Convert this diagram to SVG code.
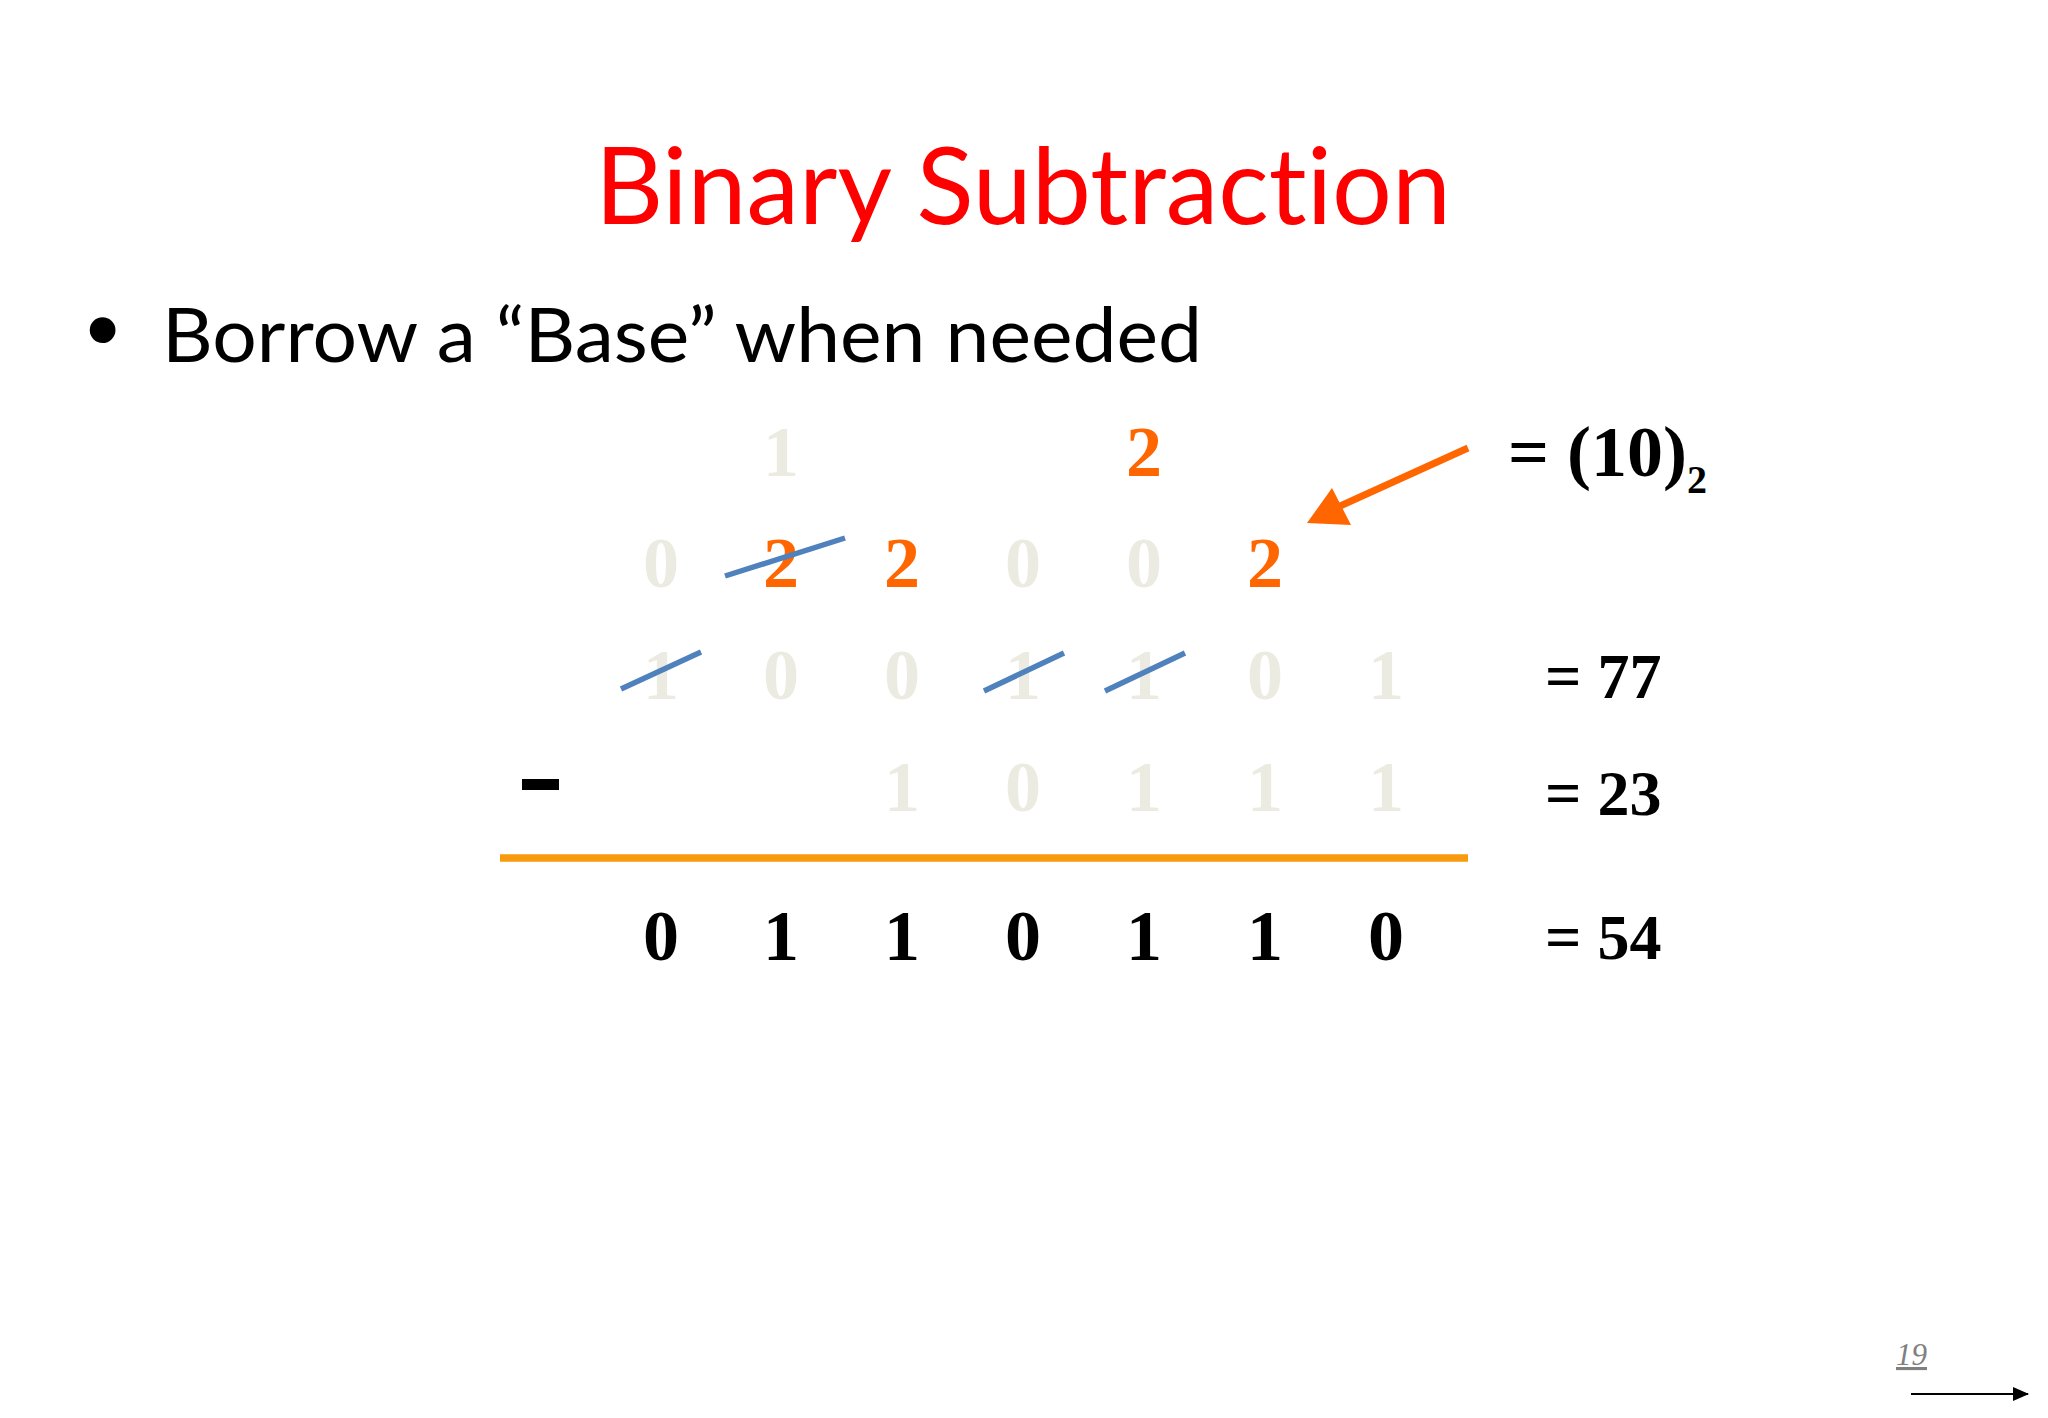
<svg xmlns="http://www.w3.org/2000/svg" width="2048" height="1418" viewBox="0 0 2048 1418">
  <defs>
    <style>
      .title { font-family: Lato, "Open Sans", sans-serif; font-size: 106px; fill: #FF0000; font-variant-ligatures: none; }
      .body { font-family: Lato, "Open Sans", sans-serif; font-size: 75px; fill: #000000; font-variant-ligatures: none; }
      .d { font-family: "Liberation Serif", "Times New Roman", serif; font-weight: bold; font-size: 72px; text-anchor: middle; }
      .g { fill: #ECEBE2; }
      .o { fill: #FF6600; }
      .k { fill: #000000; }
      .eq { font-family: "Liberation Serif", "Times New Roman", serif; font-weight: bold; fill: #000000; }
      .strike { stroke: #4F81BD; stroke-width: 5.5; stroke-linecap: butt; fill: none; }
    </style>
    <marker id="ahBlack" markerWidth="16" markerHeight="14" refX="15" refY="7" orient="auto" markerUnits="userSpaceOnUse">
      <path d="M0,0 L16,7 L0,14 Z" fill="#000000"/>
    </marker>
  </defs>

  <rect x="0" y="0" width="2048" height="1418" fill="#FFFFFF"/>

  <g id="title">
    <text class="title" x="595" y="224" textLength="856" lengthAdjust="spacingAndGlyphs">Binary Subtraction</text>
  </g>

  <g id="bullet">
    <text x="86" y="362" font-family="'Liberation Sans', Arial, sans-serif" font-size="95" fill="#000000">•</text>
    <text class="body" x="162" y="362" textLength="1040" lengthAdjust="spacingAndGlyphs">Borrow a “Base” when needed</text>
  </g>

  <g id="row-borrow-top">
    <text class="d g" x="781" y="476">1</text>
    <text class="d o" x="1144" y="476">2</text>
  </g>

  <g id="row-borrow">
    <text class="d g" x="661" y="587">0</text>
    <text class="d o" x="781" y="587">2</text>
    <text class="d o" x="902" y="587">2</text>
    <text class="d g" x="1023" y="587">0</text>
    <text class="d g" x="1144" y="587">0</text>
    <text class="d o" x="1265" y="587">2</text>
  </g>

  <g id="row-minuend">
    <text class="d g" x="661" y="699">1</text>
    <text class="d g" x="781" y="699">0</text>
    <text class="d g" x="902" y="699">0</text>
    <text class="d g" x="1023" y="699">1</text>
    <text class="d g" x="1144" y="699">1</text>
    <text class="d g" x="1265" y="699">0</text>
    <text class="d g" x="1386" y="699">1</text>
  </g>

  <g id="row-subtrahend">
    <rect x="522" y="779" width="37" height="11" fill="#000000"/>
    <text class="d g" x="902" y="811">1</text>
    <text class="d g" x="1023" y="811">0</text>
    <text class="d g" x="1144" y="811">1</text>
    <text class="d g" x="1265" y="811">1</text>
    <text class="d g" x="1386" y="811">1</text>
  </g>

  <g id="rule">
    <line x1="500" y1="858" x2="1468" y2="858" stroke="#F79A0E" stroke-width="7.5"/>
  </g>

  <g id="row-result">
    <text class="d k" x="661" y="960">0</text>
    <text class="d k" x="781" y="960">1</text>
    <text class="d k" x="902" y="960">1</text>
    <text class="d k" x="1023" y="960">0</text>
    <text class="d k" x="1144" y="960">1</text>
    <text class="d k" x="1265" y="960">1</text>
    <text class="d k" x="1386" y="960">0</text>
  </g>

  <g id="label-base">
    <text class="eq" x="1508" y="476" font-size="72">= (10)<tspan font-size="40" y="493">2</tspan></text>
  </g>
  <g id="label-77">
    <text class="eq" x="1545" y="698" font-size="64">= 77</text>
  </g>
  <g id="label-23">
    <text class="eq" x="1545" y="815" font-size="64">= 23</text>
  </g>
  <g id="label-54">
    <text class="eq" x="1545" y="959" font-size="64">= 54</text>
  </g>

  <g id="page-number">
    <text x="1896" y="1365" font-family="'Liberation Serif', 'Times New Roman', serif" font-style="italic" font-size="31" fill="#808080" text-decoration="underline">19</text>
  </g>

  <g id="connectors">
    <line x1="1468" y1="448" x2="1338" y2="507" stroke="#FF6600" stroke-width="7"/>
    <polygon points="1307,523 1332,488 1351,525" fill="#FF6600"/>
    <line class="strike" x1="725" y1="576" x2="845" y2="538"/>
    <line class="strike" x1="621" y1="689" x2="701" y2="652"/>
    <line class="strike" x1="984" y1="691" x2="1064" y2="653"/>
    <line class="strike" x1="1105" y1="691" x2="1185" y2="653"/>
    <line x1="1911" y1="1394" x2="2028" y2="1394" stroke="#000000" stroke-width="2" marker-end="url(#ahBlack)"/>
  </g>
</svg>
